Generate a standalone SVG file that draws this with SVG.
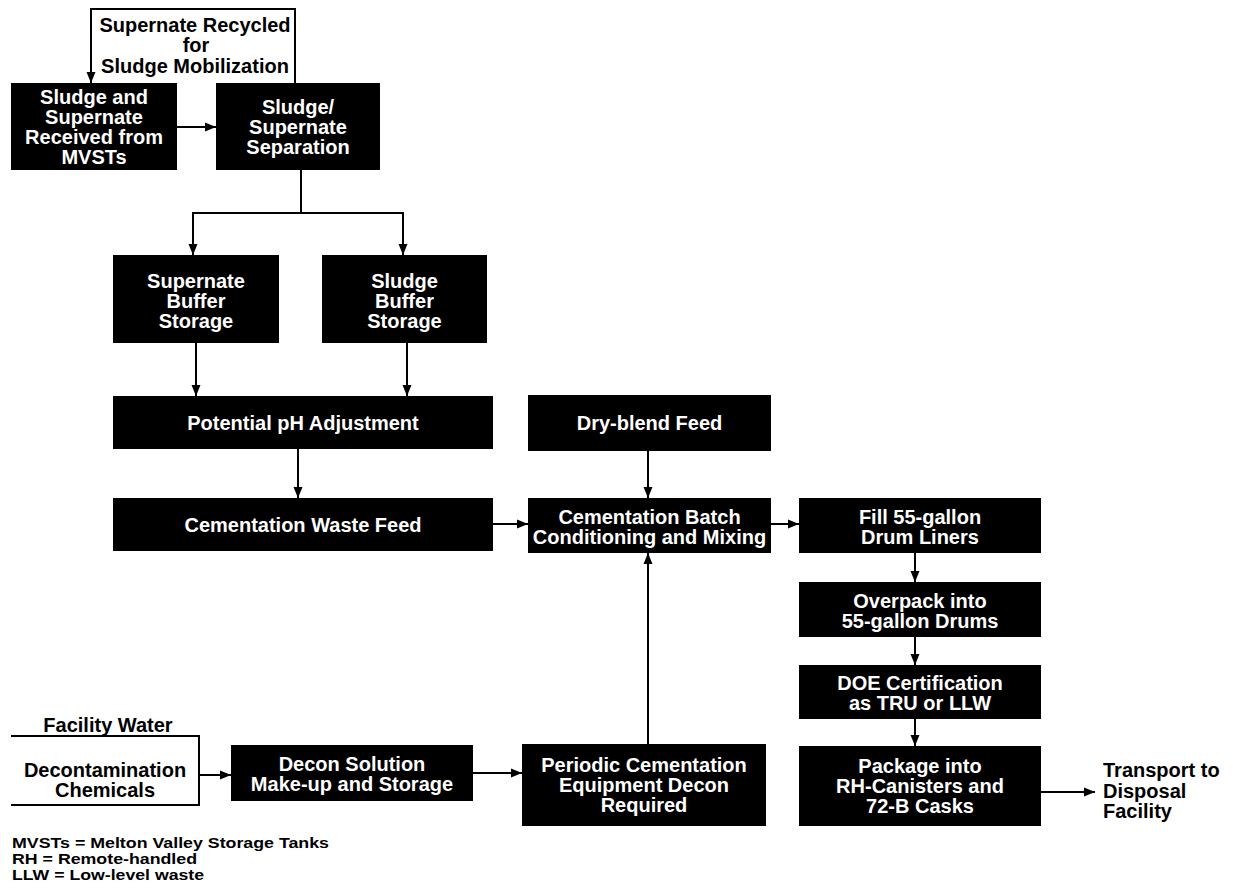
<svg xmlns="http://www.w3.org/2000/svg" width="1233" height="888" viewBox="0 0 1233 888">
  <style>
    .box { fill: #000; }
    .t { font-family: "Liberation Sans", Arial, sans-serif; font-weight: bold; font-size: 20px; }
    .w { fill: #fff; text-anchor: middle; }
    .k { fill: #000; }
    .c { text-anchor: middle; }
    .legend { font-family: "Liberation Sans", Arial, sans-serif; font-weight: bold; font-size: 15.5px; fill: #000; }
    .ln { fill: none; stroke: #000; stroke-width: 2; }
  </style>
  <defs>
    <marker id="arr" markerWidth="12" markerHeight="10" refX="11" refY="5" orient="auto" markerUnits="userSpaceOnUse">
      <path d="M0,0.5 L11,5 L0,9.5 z" fill="#000"/>
    </marker>
  </defs>
  <rect width="1233" height="888" fill="#fff"/>

  <!-- connectors -->
  <g id="connectors" class="ln">
    <polyline points="295,83 295,9 91,9 91,83" marker-end="url(#arr)"/>
    <line x1="177" y1="127" x2="216" y2="127" marker-end="url(#arr)"/>
    <line x1="301" y1="170" x2="301" y2="213"/>
    <polyline points="193,255 193,213 403,213 403,255" marker-end="url(#arr)"/>
    <line x1="193" y1="213" x2="193" y2="255" marker-end="url(#arr)"/>
    <line x1="196" y1="343" x2="196" y2="396" marker-end="url(#arr)"/>
    <line x1="407" y1="343" x2="407" y2="396" marker-end="url(#arr)"/>
    <line x1="298" y1="449" x2="298" y2="498" marker-end="url(#arr)"/>
    <line x1="493" y1="524" x2="528" y2="524" marker-end="url(#arr)"/>
    <line x1="648" y1="451" x2="648" y2="498" marker-end="url(#arr)"/>
    <line x1="771" y1="524" x2="799" y2="524" marker-end="url(#arr)"/>
    <line x1="915" y1="553" x2="915" y2="582" marker-end="url(#arr)"/>
    <line x1="915" y1="637" x2="915" y2="665" marker-end="url(#arr)"/>
    <line x1="915" y1="719" x2="915" y2="746" marker-end="url(#arr)"/>
    <line x1="1041" y1="792" x2="1095" y2="792" marker-end="url(#arr)"/>
    <line x1="648" y1="744" x2="648" y2="553" marker-end="url(#arr)"/>
    <line x1="473" y1="773" x2="522" y2="773" marker-end="url(#arr)"/>
    <polyline points="11,736 199,736 199,805 11,805"/>
    <line x1="199" y1="775" x2="231" y2="775" marker-end="url(#arr)"/>
  </g>

  <!-- free labels -->
  <g id="recycle-label" class="t k c">
    <text x="195" y="32">Supernate Recycled</text>
    <text x="196" y="52">for</text>
    <text x="195" y="73">Sludge Mobilization</text>
  </g>
  <g id="decon-inputs" class="t k c">
    <text x="108" y="732">Facility Water</text>
    <text x="105" y="777">Decontamination</text>
    <text x="105" y="797">Chemicals</text>
  </g>
  <g id="transport" class="t k">
    <text x="1103" y="777">Transport to</text>
    <text x="1103" y="798">Disposal</text>
    <text x="1103" y="818">Facility</text>
  </g>

  <!-- process nodes -->
  <g id="n-received">
    <rect class="box" x="11" y="83" width="166" height="87"/>
    <text class="t w" x="94" y="103.5">Sludge and</text>
    <text class="t w" x="94" y="123.5">Supernate</text>
    <text class="t w" x="94" y="143.5">Received from</text>
    <text class="t w" x="94" y="164">MVSTs</text>
  </g>
  <g id="n-separation">
    <rect class="box" x="216" y="83" width="164" height="87"/>
    <text class="t w" x="298" y="114">Sludge/</text>
    <text class="t w" x="298" y="134">Supernate</text>
    <text class="t w" x="298" y="154">Separation</text>
  </g>
  <g id="n-supernate-buffer">
    <rect class="box" x="113" y="255" width="166" height="88"/>
    <text class="t w" x="196" y="287.5">Supernate</text>
    <text class="t w" x="196" y="307.5">Buffer</text>
    <text class="t w" x="196" y="327.5">Storage</text>
  </g>
  <g id="n-sludge-buffer">
    <rect class="box" x="322" y="255" width="165" height="88"/>
    <text class="t w" x="404.5" y="287.5">Sludge</text>
    <text class="t w" x="404.5" y="307.5">Buffer</text>
    <text class="t w" x="404.5" y="327.5">Storage</text>
  </g>
  <g id="n-ph">
    <rect class="box" x="113" y="396" width="380" height="53"/>
    <text class="t w" x="303" y="430">Potential pH Adjustment</text>
  </g>
  <g id="n-waste-feed">
    <rect class="box" x="113" y="498" width="380" height="53"/>
    <text class="t w" x="303" y="532">Cementation Waste Feed</text>
  </g>
  <g id="n-dry-blend">
    <rect class="box" x="528" y="395" width="243" height="56"/>
    <text class="t w" x="649.5" y="430">Dry-blend Feed</text>
  </g>
  <g id="n-batch">
    <rect class="box" x="528" y="498" width="243" height="55"/>
    <text class="t w" x="649.5" y="524">Cementation Batch</text>
    <text class="t w" x="649.5" y="544">Conditioning and Mixing</text>
  </g>
  <g id="n-fill">
    <rect class="box" x="799" y="498" width="242" height="55"/>
    <text class="t w" x="920" y="524">Fill 55-gallon</text>
    <text class="t w" x="920" y="544">Drum Liners</text>
  </g>
  <g id="n-overpack">
    <rect class="box" x="799" y="582" width="242" height="55"/>
    <text class="t w" x="920" y="608">Overpack into</text>
    <text class="t w" x="920" y="628">55-gallon Drums</text>
  </g>
  <g id="n-certification">
    <rect class="box" x="799" y="665" width="242" height="54"/>
    <text class="t w" x="920" y="690">DOE Certification</text>
    <text class="t w" x="920" y="710">as TRU or LLW</text>
  </g>
  <g id="n-package">
    <rect class="box" x="799" y="746" width="242" height="80"/>
    <text class="t w" x="920" y="773">Package into</text>
    <text class="t w" x="920" y="793">RH-Canisters and</text>
    <text class="t w" x="920" y="813">72-B Casks</text>
  </g>
  <g id="n-periodic-decon">
    <rect class="box" x="522" y="744" width="244" height="82"/>
    <text class="t w" x="644" y="772">Periodic Cementation</text>
    <text class="t w" x="644" y="792">Equipment Decon</text>
    <text class="t w" x="644" y="812">Required</text>
  </g>
  <g id="n-decon-solution">
    <rect class="box" x="231" y="745" width="242" height="56"/>
    <text class="t w" x="352" y="771">Decon Solution</text>
    <text class="t w" x="352" y="791">Make-up and Storage</text>
  </g>

  <!-- abbreviations -->
  <g id="legend" class="legend">
    <text x="12" y="848" textLength="317" lengthAdjust="spacingAndGlyphs">MVSTs = Melton Valley Storage Tanks</text>
    <text x="12" y="864" textLength="185" lengthAdjust="spacingAndGlyphs">RH = Remote-handled</text>
    <text x="12" y="880" textLength="192" lengthAdjust="spacingAndGlyphs">LLW = Low-level waste</text>
  </g>
</svg>
